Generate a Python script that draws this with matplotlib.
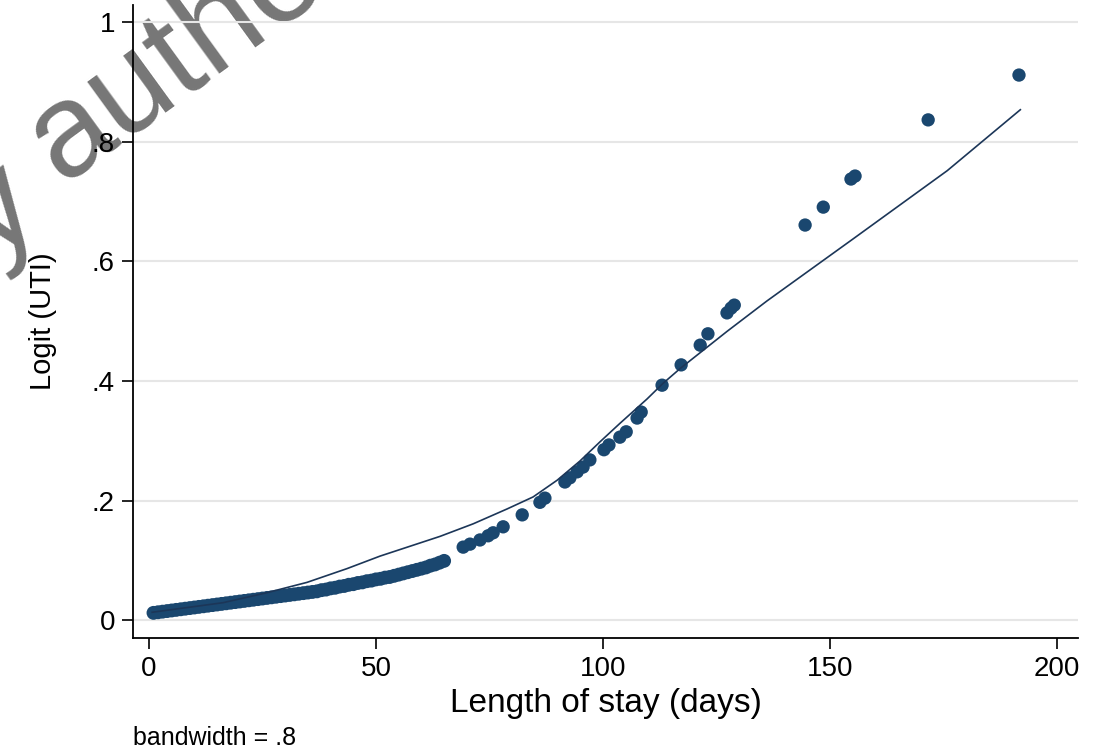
import matplotlib
matplotlib.use("Agg")
import matplotlib.pyplot as plt

plt.rcParams['font.family'] = ['Liberation Sans', 'DejaVu Sans']

# ---- data ----
# dense band of observations (one per day, 1-65 days)
band_days = list(range(1, 66))
band_logit = [0.012, 0.013, 0.014, 0.015, 0.016, 0.017, 0.018, 0.019, 0.020, 0.021,
              0.022, 0.023, 0.024, 0.025, 0.026, 0.027, 0.028, 0.029, 0.030, 0.031,
              0.032, 0.033, 0.034, 0.035, 0.036, 0.037, 0.038, 0.039, 0.040, 0.041,
              0.042, 0.043, 0.044, 0.045, 0.046, 0.047, 0.048, 0.050, 0.051, 0.053,
              0.054, 0.056, 0.057, 0.059, 0.060, 0.062, 0.063, 0.065, 0.066, 0.068,
              0.069, 0.071, 0.072, 0.074, 0.076, 0.078, 0.080, 0.082, 0.084, 0.086,
              0.088, 0.091, 0.093, 0.096, 0.099]
# sparse observations (> 65 days)
tail_days = [69.2, 70.7, 72.9, 74.7, 75.8, 78.0, 82.2, 86.1, 87.2, 91.6, 92.7, 94.3, 95.6,
             97.1, 100.2, 101.3, 103.7, 105.1, 107.5, 108.4, 113.0, 117.2, 121.4, 123.1,
             127.3, 128.2, 128.9, 144.5, 148.5, 154.6, 155.5, 171.6, 191.6]
tail_logit = [0.122, 0.127, 0.134, 0.141, 0.146, 0.156, 0.176, 0.197, 0.204, 0.231, 0.238,
              0.248, 0.256, 0.268, 0.285, 0.293, 0.306, 0.315, 0.338, 0.348, 0.393, 0.427,
              0.460, 0.479, 0.514, 0.522, 0.527, 0.661, 0.691, 0.738, 0.743, 0.837, 0.912]

# lowess smooth
lowess_x = [0.7, 16.3, 25.6, 34.8, 43.6, 50.9, 64.1, 71.4, 78.9, 84.6, 89.9, 94.9, 99.3,
            103.7, 109.7, 113.2, 117.0, 127.3, 136.1, 155.1, 175.8, 191.9]
lowess_y = [0.013, 0.029, 0.045, 0.063, 0.086, 0.107, 0.140, 0.161, 0.186, 0.206, 0.234,
            0.266, 0.298, 0.329, 0.370, 0.396, 0.421, 0.483, 0.534, 0.638, 0.752, 0.854]

x_ticks = [0, 50, 100, 150, 200]
y_ticks = [0, 0.2, 0.4, 0.6, 0.8, 1.0]
y_tick_labels = ['0', '.2', '.4', '.6', '.8', '1']

navy = '#1a476f'
line_col = '#1c3658'

fig = plt.figure(figsize=(10.98, 7.53), dpi=100)
fig.patch.set_facecolor('white')

# watermark (behind the plot)
wm_col = '#767676'
fig.text(0.0560, 0.7560, 'authors', fontsize=96, color=wm_col, rotation=36,
         rotation_mode='anchor', ha='left', va='baseline', zorder=-1)
fig.text(0.0400, 0.7150, 'By', fontsize=96, color=wm_col, rotation=36,
         rotation_mode='anchor', ha='right', va='baseline', zorder=-1)

ax = fig.add_axes([0.1211, 0.1527, 0.8607, 0.8407])
ax.set_facecolor('none')

ax.scatter(band_days, band_logit, s=100, color=navy, edgecolors='none', zorder=3)
ax.scatter(tail_days, tail_logit, s=92, color=navy, edgecolors='none', zorder=3)
ax.plot(lowess_x, lowess_y, color=line_col, lw=1.2, zorder=4)

ax.set_xlim(-3.52, 204.6)
ax.set_ylim(-0.0301, 1.0293)
ax.set_xticks(x_ticks)
ax.set_xticklabels([str(v) for v in x_ticks])
ax.set_yticks(y_ticks)
ax.set_yticklabels(y_tick_labels)

ax.grid(axis='y', color='#e6e6e6', lw=1.5, zorder=0)
ax.set_axisbelow(True)

for s in ['top', 'right']:
    ax.spines[s].set_visible(False)
for s in ['left', 'bottom']:
    ax.spines[s].set_linewidth(1.3)
    ax.spines[s].set_color('black')

ax.tick_params(axis='both', direction='out', length=8, width=1.2, labelsize=20,
               colors='black', pad=5)

ax.set_xlabel('Length of stay (days)', fontsize=24, labelpad=4)
ax.set_ylabel('Logit (UTI)', fontsize=21, labelpad=25)

fig.text(133 / 1098, 1 - 745 / 753, 'bandwidth = .8', fontsize=18, ha='left',
         va='baseline')

fig.savefig('out.png', dpi=100, facecolor='white')
